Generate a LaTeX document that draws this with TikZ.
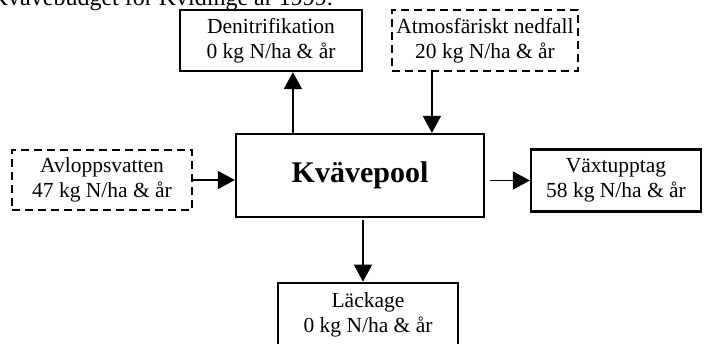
\documentclass[tikz,border=0pt]{standalone}
\usepackage{fontspec}
\setmainfont{Liberation Serif}
\usetikzlibrary{arrows.meta}
\begin{document}
\begin{tikzpicture}[x=1bp,y=-1bp,
  box/.style={draw, line width=2.2bp, rectangle, inner sep=0pt, align=center,
    font=\fontsize{21.5bp}{25bp}\selectfont},
  dbox/.style={box, dash pattern=on 8bp off 5bp},
  flow/.style={line width=1.6bp, -{Triangle[length=17bp,width=18bp]}},
]
\useasboundingbox (0,0) rectangle (704,343);
\clip (0,0) rectangle (704,343);
\node[anchor=base east, inner sep=0pt, font=\fontsize{24bp}{28bp}\selectfont] (title) at (333,5) {Kvävebudget för Kvidinge år 1999.};
\node[box, minimum width=182bp, minimum height=61bp] (denit) at (271,40.5) {Denitrifikation\\0 kg N/ha \& år};
\node[dbox, minimum width=186bp, minimum height=61bp] (atmos) at (485,40.5) {Atmosfäriskt nedfall\\20 kg N/ha \& år};
\node[box, minimum width=248bp, minimum height=83bp, font=\fontsize{30bp}{34bp}\selectfont\bfseries] (pool) at (360,175.5) {Kvävepool};
\node[dbox, minimum width=180bp, minimum height=60bp] (avl) at (102,180) {Avloppsvatten\\47 kg N/ha \& år};
\node[box, minimum width=170bp, minimum height=62bp] (vax) at (616,180.5) {Växtupptag\\58 kg N/ha \& år};
\node[box, minimum width=180bp, minimum height=64bp, anchor=north] (lack) at (368,281.7) {Läckage\\0 kg N/ha \& år};
\draw[flow] ([xshift=58bp]pool.north west) -- ([xshift=58bp]pool.north west |- denit.south);
\draw[flow] ([xshift=41bp]atmos.south west) -- ([xshift=41bp]atmos.south west |- pool.north);
\draw[flow] (avl.east) -- (avl.east -| pool.west);
\draw[flow] ([xshift=5bp]pool.east |- vax.west) -- (vax.west);
\draw[flow] ([xshift=3bp,yshift=-2bp]pool.south) -- ([xshift=3bp]pool.south |- lack.north);
\end{tikzpicture}
\end{document}
